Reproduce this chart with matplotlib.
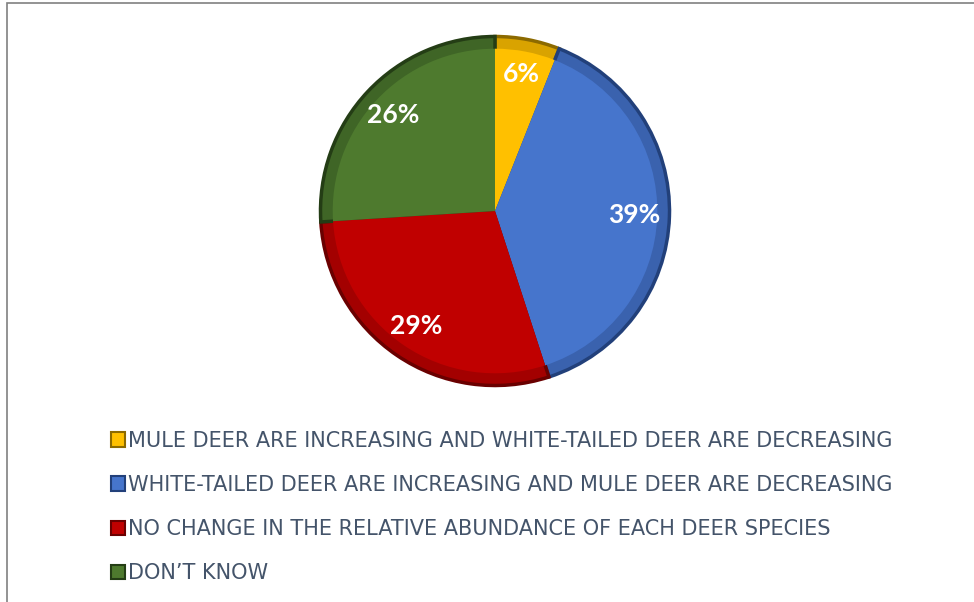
import matplotlib.pyplot as plt
from matplotlib.patches import Rectangle

# survey answers
labels = [
    "MULE DEER ARE INCREASING AND WHITE-TAILED DEER ARE DECREASING",
    "WHITE-TAILED DEER ARE INCREASING AND MULE DEER ARE DECREASING",
    "NO CHANGE IN THE RELATIVE ABUNDANCE OF EACH DEER SPECIES",
    "DON\u2019T KNOW",
]
shares = [6, 39, 29, 26]
colors = ["#FFC000", "#4675CC", "#C00000", "#4E7A2E"]
rims = ["#D9A300", "#3A62AE", "#A30000", "#3F6526"]
edges = ["#8C6A00", "#22407A", "#6A0000", "#243D15"]

W, H = 974, 602
fig = plt.figure(figsize=(W / 100, H / 100), dpi=100)
fig.patch.set_facecolor("white")

# outer frame (left and top edges visible)
fig.add_artist(Rectangle((7 / W, -0.1), 1.2, (H - 3) / H + 0.1,
                         transform=fig.transFigure, fill=False,
                         edgecolor="#808080", linewidth=1.2))

cx, cy, r = 495, 211, 178
ax = fig.add_axes([(cx - r) / W, (H - cy - r) / H, 2 * r / W, 2 * r / H])
# darker rim underneath, main face on top (rough bevel look)
wedges, _ = ax.pie(shares, colors=rims, startangle=90, counterclock=False,
                   wedgeprops=dict(linewidth=2.5))
for w, e in zip(wedges, edges):
    w.set_edgecolor(e)
faces, _, autotexts = ax.pie(
    shares, colors=colors, startangle=90, counterclock=False, radius=0.93,
    autopct="%d%%", pctdistance=0.86,
    wedgeprops=dict(linewidth=0),
    textprops=dict(color="white", fontsize=19, fontweight="bold", family="Lato"),
)
ax.set_xlim(-1.02, 1.02)
ax.set_ylim(-1.02, 1.02)
ax.set_aspect("equal")
ax.axis("off")

leg = fig.legend(wedges, labels, loc="upper left",
                 bbox_to_anchor=(92 / W, 1 - 412 / H),
                 frameon=False, handlelength=0.68, handleheight=0.68,
                 handletextpad=0.15, labelspacing=1.16,
                 prop=dict(family="DejaVu Sans", size=15.0))
for t in leg.get_texts():
    t.set_color("#44546A")
for h, c, e in zip(leg.legend_handles, colors, edges):
    h.set_facecolor(c)
    h.set_edgecolor(e)
    h.set_linewidth(1.5)

fig.savefig("out.png", dpi=100)
